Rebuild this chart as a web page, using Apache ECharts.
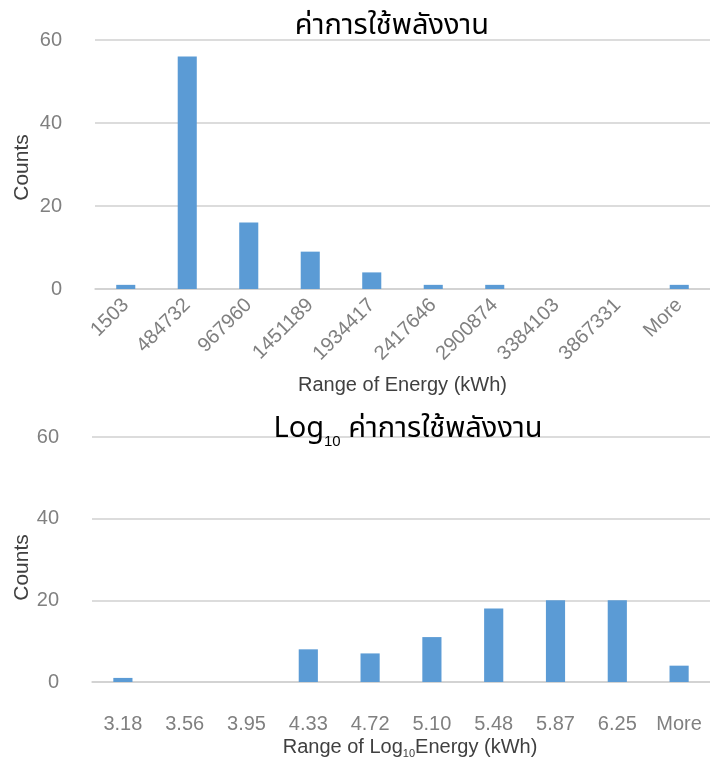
<!DOCTYPE html>
<html><head><meta charset="utf-8">
<script src="https://cdn.jsdelivr.net/npm/echarts@6/dist/echarts.min.js"></script>
<style>html,body{margin:0;padding:0;background:#fff}#c{width:710px;height:762px}</style>
</head><body><div id="c"></div>
<script>
const topCategories = ['1503','484732','967960','1451189','1934417','2417646','2900874','3384103','3867331','More'];
const topCounts = [1, 56, 16, 9, 4, 1, 1, 0, 0, 1];
const logCategories = ['3.18','3.56','3.95','4.33','4.72','5.10','5.48','5.87','6.25','More'];
const logCounts = [1, 0, 0, 8, 7, 11, 18, 20, 20, 4];
const yTicks = [0, 20, 40, 60];

const FONT = 'Liberation Sans, Arial, Noto Sans, sans-serif';
const THAI = 'Noto Sans Thai, Noto Sans, DejaVu Sans, Liberation Sans, sans-serif';
const tickColor = '#808080';
const nameColor = '#404040';
const gridColor = '#d0d0d0';
const barColor = '#5b9bd5';

function yAxis(idx, gap, pad) {
  return {
    gridIndex: idx, type: 'value', min: yTicks[0], max: yTicks[yTicks.length-1], interval: 20,
    name: 'Counts', nameLocation: 'middle', nameGap: gap, nameMoveOverlap: false,
    nameTextStyle: {fontFamily: FONT, fontSize: 21, color: nameColor, padding: pad},
    axisLine: {show: false}, axisTick: {show: false},
    axisLabel: {fontFamily: FONT, fontSize: 20, color: tickColor, margin: 33},
    splitLine: {lineStyle: {color: gridColor, width: 1.5}}
  };
}

const chart = echarts.init(document.getElementById('c'), null, {renderer: 'canvas'});
chart.setOption({
  animation: false,
  title: [
    {text: 'ค่าการใช้พลังงาน', left: 387, top: 9, textAlign: 'center',
     textStyle: {fontFamily: THAI, fontSize: 29, fontWeight: 'normal', color: '#000'}},
    {text: '{a|Log}{s|10}{a| ค่าการใช้พลังงาน}', left: 403, top: 408, textAlign: 'center',
     textStyle: {fontWeight: 'normal', rich: {
       a: {fontFamily: THAI, fontSize: 29, fontWeight: 'normal', color: '#000', lineHeight: 36, verticalAlign: 'middle'},
       s: {fontFamily: FONT, fontSize: 15, fontWeight: 'normal', color: '#000', lineHeight: 14, verticalAlign: 'bottom'}
     }}}
  ],
  grid: [
    {left: 95, right: 0, top: 40, height: 249, containLabel: false, outerBoundsMode: 'none'},
    {left: 92, right: 0, top: 437, height: 245, containLabel: false, outerBoundsMode: 'none'}
  ],
  xAxis: [
    {gridIndex: 0, type: 'category', data: topCategories,
     name: 'Range of Energy (kWh)', nameLocation: 'middle', nameGap: 86, nameMoveOverlap: false,
     nameTextStyle: {fontFamily: FONT, fontSize: 20, color: nameColor},
     axisLine: {lineStyle: {color: gridColor, width: 1.5}}, axisTick: {show: false},
     axisLabel: {fontFamily: FONT, fontSize: 20, color: tickColor, rotate: 45, margin: 13, interval: 0}},
    {gridIndex: 1, type: 'category', data: logCategories,
     name: '{a|Range of Log}{s|10}{a|Energy (kWh)}', nameLocation: 'middle', nameGap: 53, nameMoveOverlap: false,
     nameTextStyle: {padding: [0, 0, 0, 18], rich: {
       a: {fontFamily: FONT, fontSize: 20, color: nameColor, lineHeight: 24, verticalAlign: 'middle'},
       s: {fontFamily: FONT, fontSize: 11, color: nameColor, lineHeight: 11, verticalAlign: 'bottom'}
     }},
     axisLine: {lineStyle: {color: gridColor, width: 1.5}}, axisTick: {show: false},
     axisLabel: {fontFamily: FONT, fontSize: 20, color: tickColor, margin: 32, interval: 0}}
  ],
  yAxis: [yAxis(0, 62, [0, 6, 0, 0]), yAxis(1, 59, [0, 16, 0, 0])],
  series: [
    {type: 'bar', xAxisIndex: 0, yAxisIndex: 0, data: topCounts, barWidth: '31%',
     itemStyle: {color: barColor}},
    {type: 'bar', xAxisIndex: 1, yAxisIndex: 1, data: logCounts, barWidth: '31%',
     itemStyle: {color: barColor}}
  ]
});
</script></body></html>
